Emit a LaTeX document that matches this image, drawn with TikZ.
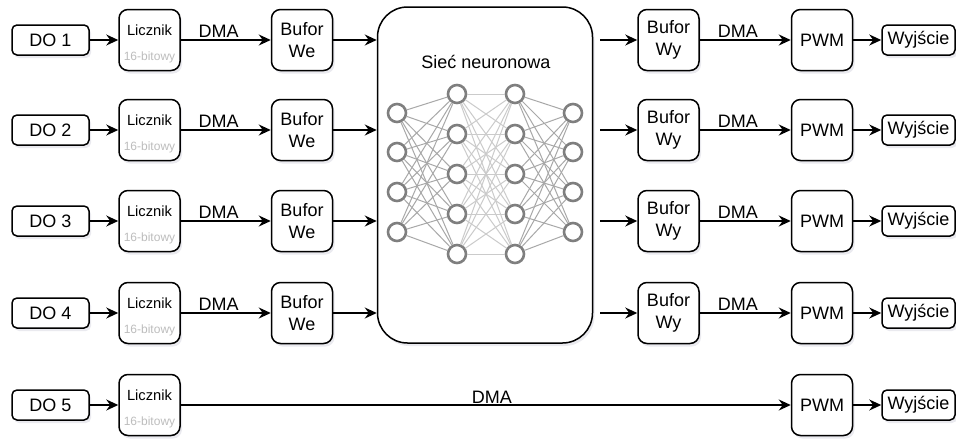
\documentclass[tikz,border=0pt]{standalone}
\usepackage{fontspec}
\setmainfont{Liberation Sans}
\usetikzlibrary{arrows.meta,shadows,calc}
\definecolor{neuron}{HTML}{7F7F7F}
\definecolor{synA}{HTML}{A8A8A8}
\definecolor{synB}{HTML}{CBCBCB}
\definecolor{subtxt}{HTML}{BDBDBD}
\definecolor{shadowtone}{HTML}{8C8CA8}
\begin{document}
\begin{tikzpicture}[x=1pt,y=-1pt,
  font=\fontsize{18}{21}\selectfont,
  shade box/.style={drop shadow={opacity=0.18,fill=shadowtone,shadow xshift=2pt,shadow yshift=-3pt}},
  box/.style={draw=black,line width=1.5pt,fill=white,inner sep=0pt,shade box,
              rounded corners=9pt,minimum width=61pt,minimum height=61pt,align=center},
  flat/.style={box,rounded corners=5pt,minimum height=30pt},
  conn/.style={line width=1.5pt,-{Stealth[length=12pt,width=11pt,inset=4pt]}},
  lbl/.style={anchor=base},
  neu/.style={circle,draw=neuron,line width=2.6pt,fill=white,minimum size=18pt,inner sep=0pt},
  synout/.style={draw=synA,line width=1pt},
  synmid/.style={draw=synB,line width=1pt},
]
\useasboundingbox (0,0) rectangle (956,439);

% network block
\node[box,rounded corners=30pt,minimum width=215pt,minimum height=336pt] (nn) at (485,175) {};
\node (nntitle) at (486,62) {Sieć neuronowa};

% neurons: outer layers have 4, hidden layers have 5
\foreach \r/\yy in {1/113,2/152,3/192,4/232}{
  \node[neu] (a\r) at (397,\yy) {};
  \node[neu] (d\r) at (573,\yy) {};
}
\foreach \r/\yy in {1/94,2/134,3/174,4/214,5/254}{
  \node[neu] (b\r) at (457,\yy) {};
  \node[neu] (c\r) at (515,\yy) {};
}
\foreach \i in {1,...,4}{
  \foreach \j in {1,...,5}{
    \draw[synout] (a\i) -- (b\j);
    \draw[synout] (c\j) -- (d\i);
  }
}
\foreach \i in {1,...,5}{
  \foreach \j in {1,...,5}{
    \draw[synmid] (b\i) -- (c\j);
  }
}

% input channels 1-4 and their outputs
\foreach \i/\yy in {1/40,2/130,3/221,4/313}{
  \node[flat,minimum width=77pt] (do\i) at (50.5,\yy) {DO \i};
  \node[box] (lic\i) at (149.5,\yy) {};
  \node[font=\fontsize{14.7}{16}\selectfont] (licT\i) at ($(lic\i.center)+(0,-10)$) {Licznik};
  \node[font=\fontsize{12}{14}\selectfont,text=subtxt] (licS\i) at ($(lic\i.center)+(0,17)$) {16-bitowy};
  \node[box] (bwe\i) at (302,\yy) {Bufor\\[1pt]We};
  \node[box] (bwy\i) at (668.5,\yy) {Bufor\\[1pt]Wy};
  \node[box] (pwm\i) at (822,\yy) {PWM};
  \node[flat,minimum width=73pt] (out\i) at (918.5,\yy) {Wyjście};

  \draw[conn] (do\i) -- (lic\i);
  \draw[conn] (lic\i) -- (bwe\i) node[lbl,pos=0.42,yshift=3pt] (dmaA\i) {DMA};
  \draw[conn] (bwe\i) -- (bwe\i -| nn.west);
  \draw[conn] ([xshift=7pt]bwy\i -| nn.east) -- (bwy\i);
  \draw[conn] (bwy\i) -- (pwm\i) node[lbl,pos=0.42,yshift=3pt] (dmaB\i) {DMA};
  \draw[conn] (pwm\i) -- (out\i);
}

% channel 5 bypasses the network
\node[flat,minimum width=77pt] (do5) at (50.5,405) {DO 5};
\node[box] (lic5) at (149.5,405) {};
\node[font=\fontsize{14.7}{16}\selectfont] (licT5) at ($(lic5.center)+(0,-10)$) {Licznik};
\node[font=\fontsize{12}{14}\selectfont,text=subtxt] (licS5) at ($(lic5.center)+(0,17)$) {16-bitowy};
\node[box] (pwm5) at (822,405) {PWM};
\node[flat,minimum width=73pt] (out5) at (918.5,405) {Wyjście};
\draw[conn] (do5) -- (lic5);
\draw[conn] (lic5) -- (pwm5) node[lbl,pos=0.51,yshift=2pt] (dma5) {DMA};
\draw[conn] (pwm5) -- (out5);
\end{tikzpicture}
\end{document}
